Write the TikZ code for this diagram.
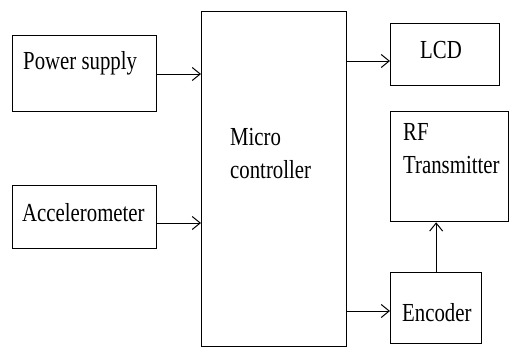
\documentclass[tikz,border=0pt]{standalone}
\usepackage{fontspec}
\setmainfont{Liberation Serif}
\usetikzlibrary{arrows.meta}
\newcommand{\sq}[1]{\scalebox{0.8}[1]{\begin{tabular}{@{}l@{}}#1\end{tabular}}}
\begin{document}
\begin{tikzpicture}[x=1pt,y=-1pt,
  box/.style={draw, line width=1.3pt, inner sep=0pt, anchor=north west},
  lbl/.style={anchor=base west, inner sep=0pt, font=\fontsize{26}{33}\selectfont},
  arr/.style={line width=1pt, -{Straight Barb[length=8pt,width=13pt,line width=1pt]}}]
\useasboundingbox (0,0) rectangle (509,348);
\node[box, minimum width=144pt, minimum height=76pt] (ps) at (12,35) {};
\node[box, minimum width=144pt, minimum height=63pt] (acc) at (12,185) {};
\node[box, minimum width=145pt, minimum height=335pt] (mc) at (201,11) {};
\node[box, minimum width=109pt, minimum height=62pt] (lcd) at (390,23) {};
\node[box, minimum width=118pt, minimum height=110pt] (rf) at (390,111) {};
\node[box, minimum width=91pt, minimum height=71pt] (enc) at (390,272) {};
\node[lbl] (tps) at (23,69) {\sq{Power supply}};
\node[lbl] (tacc) at (22,221) {\sq{Accelerometer}};
\node[lbl, anchor=north west] (tmc) at (230,122) {\sq{Micro\\controller}};
\node[lbl] (tlcd) at (420,58) {\sq{LCD}};
\node[lbl, anchor=north west] (trf) at (403,117) {\sq{RF\\Transmitter}};
\node[lbl] (tenc) at (402,321) {\sq{Encoder}};
\draw[arr] (ps.east |- 0,74) -- (mc.west |- 0,74);
\draw[arr] (acc.east |- 0,223) -- (mc.west |- 0,223);
\draw[arr] (mc.east |- 0,61) -- (lcd.west |- 0,61);
\draw[arr] (mc.east |- 0,311) -- (enc.west |- 0,311);
\draw[arr] (enc.north) -- (enc.north |- rf.south);
\end{tikzpicture}
\end{document}
